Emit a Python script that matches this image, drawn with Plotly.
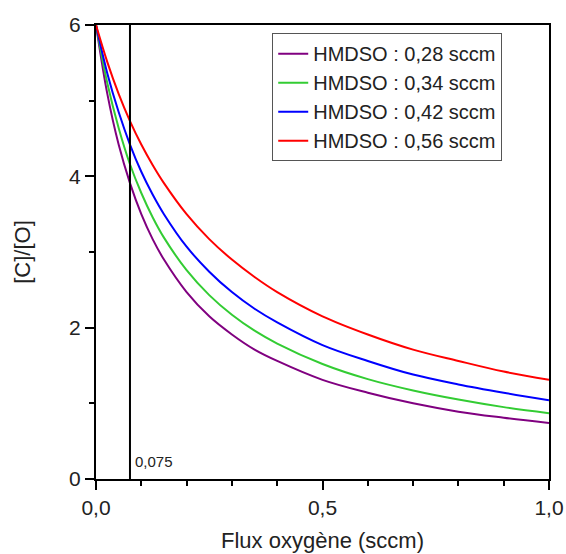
import plotly.graph_objects as go

x_flux = [0, 0.025, 0.05, 0.075, 0.1, 0.125, 0.15, 0.2, 0.25, 0.3, 0.35, 0.4, 0.5, 0.6, 0.7, 0.8, 0.9, 1.0]
y_028 = [6.0, 5.09, 4.42, 3.91, 3.50, 3.17, 2.90, 2.47, 2.15, 1.91, 1.71, 1.56, 1.31, 1.14, 1.00, 0.89, 0.81, 0.74]
y_034 = [6.0, 5.23, 4.64, 4.16, 3.78, 3.46, 3.19, 2.76, 2.43, 2.17, 1.96, 1.79, 1.52, 1.32, 1.17, 1.05, 0.95, 0.87]
y_042 = [6.0, 5.36, 4.85, 4.42, 4.06, 3.76, 3.50, 3.07, 2.74, 2.47, 2.25, 2.07, 1.77, 1.56, 1.38, 1.25, 1.14, 1.04]
y_056 = [6.0, 5.51, 5.09, 4.73, 4.42, 4.15, 3.91, 3.50, 3.17, 2.90, 2.67, 2.47, 2.15, 1.91, 1.71, 1.56, 1.42, 1.31]
series_names = ["HMDSO : 0,28 sccm", "HMDSO : 0,34 sccm", "HMDSO : 0,42 sccm", "HMDSO : 0,56 sccm"]
colors = ["#800080", "#33cc33", "#0000ff", "#ff0000"]
marker_x = 0.075
marker_label = "0,075"

fig = go.Figure()
for name, ys, c in zip(series_names, [y_028, y_034, y_042, y_056], colors):
    fig.add_trace(go.Scatter(x=x_flux, y=ys, mode="lines", name=name,
                             line=dict(color=c, width=2, shape="spline")))

fig.add_shape(type="line", x0=marker_x, x1=marker_x, y0=0, y1=1, xref="x", yref="paper",
              line=dict(color="black", width=2))
fig.add_annotation(x=marker_x, y=0, xref="x", yref="y", text=marker_label, showarrow=False,
                   xanchor="left", yanchor="bottom", xshift=3, yshift=7,
                   font=dict(size=15, color="#222"))

axis_common = dict(showline=True, linecolor="black", linewidth=2, mirror=True,
                   showgrid=False, zeroline=False, ticks="outside", ticklen=9,
                   tickwidth=2, tickcolor="black", tickfont=dict(size=21, color="#222"),
                   automargin=False)

fig.update_layout(
    width=566, height=554,
    margin=dict(l=96, r=17, t=25, b=75),
    plot_bgcolor="white", paper_bgcolor="white",
    separators=",.",
    font=dict(family="Liberation Sans, Arial, sans-serif", color="#222"),
    xaxis=dict(range=[0, 1], tickvals=[0, 0.5, 1.0], tickformat=".1f",
               minor=dict(dtick=0.1, ticks="outside", ticklen=5, tickwidth=2, tickcolor="black"),
               title=dict(text="Flux oxygène (sccm)", font=dict(size=22), standoff=14),
               **axis_common),
    yaxis=dict(range=[0, 6], dtick=2,
               minor=dict(dtick=1, ticks="outside", ticklen=5, tickwidth=2, tickcolor="black"),
               title=dict(text="[C]/[O]", font=dict(size=22), standoff=32),
               **axis_common),
    legend=dict(x=0.389, y=0.982, xanchor="left", yanchor="top",
                bordercolor="#555", borderwidth=1, bgcolor="white",
                font=dict(size=20, color="#222"), tracegroupgap=0),
)

fig.write_html("out.html", config={"displayModeBar": False},
               post_script="document.body.style.margin='0';document.documentElement.style.overflow='hidden';document.body.style.overflow='hidden';")
